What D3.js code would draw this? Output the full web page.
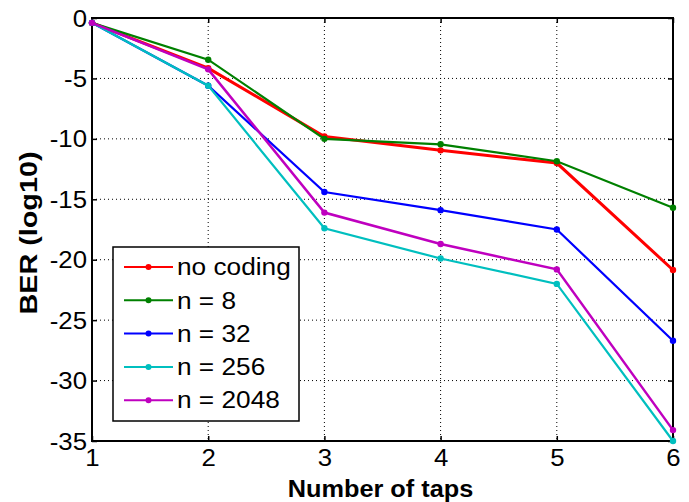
<!DOCTYPE html>
<html><head><meta charset="utf-8">
<script src="https://cdn.jsdelivr.net/npm/d3@7"></script>
<style>body{margin:0;background:#fff}svg{display:block}text{font-family:"Liberation Sans",Arial,sans-serif}</style>
</head><body><svg id="c" width="689" height="502"></svg>
<script>
const taps = [1, 2, 3, 4, 5, 6];
const seriesNames = ["no coding", "n = 8", "n = 32", "n = 256", "n = 2048"];
const seriesColors = ["#ff0000", "#008000", "#0000ff", "#00bfbf", "#bf00bf"];
const noCoding = [-0.4, -4.15, -9.8, -10.95, -12.0, -20.85];
const n8 = [-0.4, -3.45, -10.0, -10.45, -11.85, -15.7];
const n32 = [-0.4, -5.6, -14.4, -15.9, -17.5, -26.7];
const n256 = [-0.4, -5.6, -17.4, -19.9, -22.0, -35.0];
const n2048 = [-0.4, -4.25, -16.1, -18.7, -20.8, -34.1];
const seriesValues = [noCoding, n8, n32, n256, n2048];
const yTicks = [0, -5, -10, -15, -20, -25, -30, -35];
const xTicks = [1, 2, 3, 4, 5, 6];

const svg = d3.select("#c");
const L = 92, R = 673, T = 18, B = 441;
const x = d3.scaleLinear().domain([1, 6]).range([L, R]);
const y = d3.scaleLinear().domain([0, -35]).range([T, B]);

function stretch(sel, f) {
  sel.each(function(){ const w = this.getComputedTextLength(); this.setAttribute("textLength", w * f); this.setAttribute("lengthAdjust", "spacingAndGlyphs"); });
}

// grid
svg.append("g").selectAll("line").data(xTicks.slice(1, -1)).join("line")
  .attr("x1", d => x(d)).attr("x2", d => x(d)).attr("y1", T).attr("y2", B)
  .attr("stroke", "#000").attr("stroke-width", 1).attr("stroke-dasharray", "1,3");
svg.append("g").selectAll("line").data(yTicks.slice(1, -1)).join("line")
  .attr("y1", d => y(d)).attr("y2", d => y(d)).attr("x1", L).attr("x2", R)
  .attr("stroke", "#000").attr("stroke-width", 1).attr("stroke-dasharray", "1,3");

const fmt = d => String(d);
const ax = svg.append("g").attr("transform", `translate(0,${B})`).call(d3.axisBottom(x).tickValues(xTicks).tickSize(-5).tickPadding(9).tickFormat(fmt));
const axT = svg.append("g").attr("transform", `translate(0,${T})`).call(d3.axisTop(x).tickValues(xTicks).tickSize(-5).tickFormat(""));
const ay = svg.append("g").attr("transform", `translate(${L},0)`).call(d3.axisLeft(y).tickValues(yTicks).tickSize(-5).tickPadding(5).tickFormat(fmt));
const ayR = svg.append("g").attr("transform", `translate(${R},0)`).call(d3.axisRight(y).tickValues(yTicks).tickSize(-5).tickFormat(""));
[ax, axT, ay, ayR].forEach(g => { g.select(".domain").remove(); g.selectAll("line").attr("stroke", "#000").attr("stroke-width", 1.5); });
ax.selectAll("text").attr("font-size", 23).attr("fill", "#000").attr("dy", "0.71em").call(stretch, 1.12);
ay.selectAll("text").attr("font-size", 23).attr("fill", "#000").attr("dy", "0.35em").call(stretch, 1.12);

svg.append("rect").attr("x", L).attr("y", T).attr("width", R - L).attr("height", B - T)
  .attr("fill", "none").attr("stroke", "#000").attr("stroke-width", 2);

// series
const line = d3.line().x((d, i) => x(taps[i])).y(d => y(d));
const widths = [3, 2.2, 2.2, 2.2, 2.5];
seriesValues.forEach((vals, k) => {
  svg.append("path").datum(vals).attr("d", line).attr("fill", "none")
    .attr("stroke", seriesColors[k]).attr("stroke-width", widths[k]);
  svg.append("g").selectAll("circle").data(vals).join("circle")
    .attr("cx", (d, i) => x(taps[i])).attr("cy", d => y(d)).attr("r", 3.2).attr("fill", seriesColors[k]);
});

// legend
const lg = svg.append("g");
lg.append("rect").attr("x", 113).attr("y", 247).attr("width", 186).attr("height", 174)
  .attr("fill", "#fff").attr("stroke", "#000").attr("stroke-width", 1.5);
seriesNames.forEach((nm, k) => {
  const cy = 267 + k * 33.3;
  lg.append("line").attr("x1", 124).attr("x2", 173).attr("y1", cy).attr("y2", cy)
    .attr("stroke", seriesColors[k]).attr("stroke-width", 2);
  lg.append("circle").attr("cx", 148.5).attr("cy", cy).attr("r", 3).attr("fill", seriesColors[k]);
  lg.append("text").attr("x", 177).attr("y", cy).attr("dy", "0.36em").attr("font-size", 23).text(nm).call(stretch, 1.14);
});

// axis titles
svg.append("text").attr("x", (L + R) / 2 - 2).attr("y", 497).attr("text-anchor", "middle")
  .attr("font-size", 23).attr("font-weight", "bold").text("Number of taps").call(stretch, 1.1);
svg.append("text").attr("transform", "translate(37,233) rotate(-90)").attr("text-anchor", "middle")
  .attr("font-size", 23).attr("font-weight", "bold").text("BER (log10)").call(stretch, 1.25);
</script></body></html>
